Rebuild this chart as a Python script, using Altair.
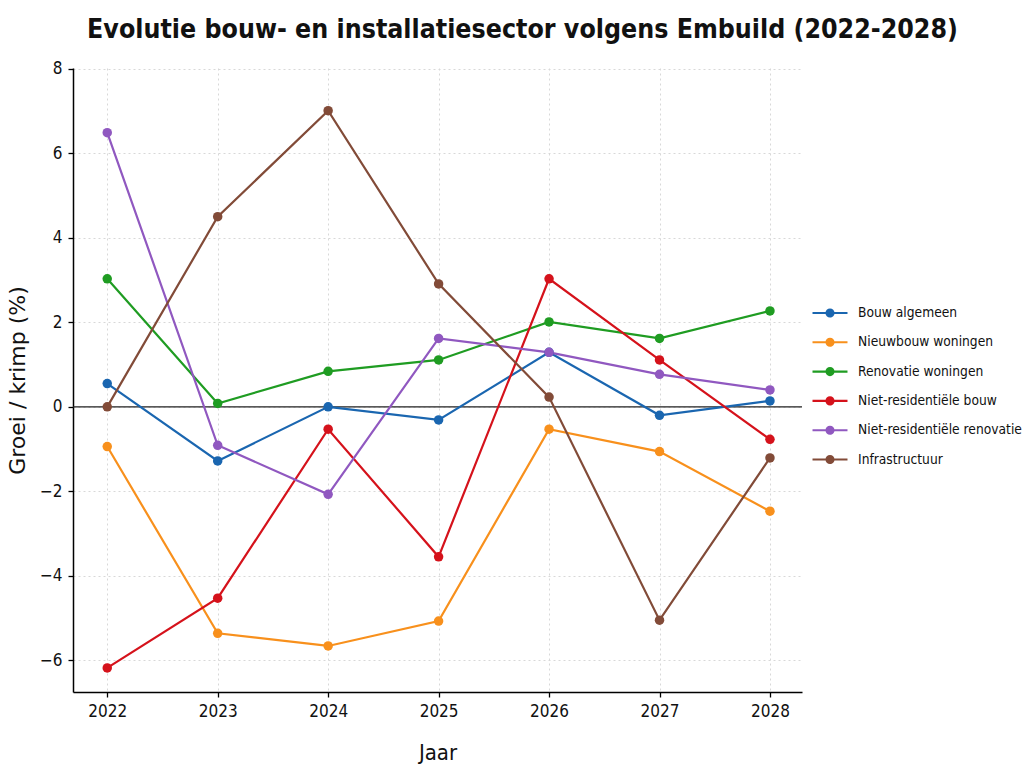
import altair as alt
import pandas as pd

years = [2022, 2023, 2024, 2025, 2026, 2027, 2028]
series_names = [
    "Bouw algemeen",
    "Nieuwbouw woningen",
    "Renovatie woningen",
    "Niet-residentiële bouw",
    "Niet-residentiële renovatie",
    "Infrastructuur",
]
bouw_algemeen = [0.55, -1.28, 0.0, -0.31, 1.29, -0.2, 0.14]
nieuwbouw_woningen = [-0.94, -5.36, -5.66, -5.07, -0.53, -1.06, -2.47]
renovatie_woningen = [3.03, 0.08, 0.84, 1.11, 2.01, 1.62, 2.27]
niet_res_bouw = [-6.18, -4.53, -0.53, -3.55, 3.03, 1.11, -0.77]
niet_res_renovatie = [6.49, -0.91, -2.07, 1.62, 1.29, 0.77, 0.40]
infrastructuur = [0.0, 4.5, 7.01, 2.91, 0.23, -5.05, -1.21]
colors = ["#1a66b0", "#f8901c", "#1f9c22", "#d5121b", "#9058c0", "#824b38"]

all_values = [bouw_algemeen, nieuwbouw_woningen, renovatie_woningen,
              niet_res_bouw, niet_res_renovatie, infrastructuur]
rows = []
for name, vals in zip(series_names, all_values):
    for y, v in zip(years, vals):
        rows.append({"Jaar": y, "Waarde": v, "Reeks": name})
df = pd.DataFrame(rows)

FONT = "DejaVu Sans Condensed, Roboto, sans-serif"

legend_path = ("M-1.5,-0.09 L1.5,-0.09 L1.5,0.09 L-1.5,0.09 Z "
               "M0.39,0 A0.39,0.39 0 1 1 -0.39,0 A0.39,0.39 0 1 1 0.39,0 Z")

color = alt.Color(
    "Reeks:N",
    scale=alt.Scale(domain=series_names, range=colors),
    sort=series_names,
    legend=alt.Legend(
        title=None,
        orient="none",
        legendX=745,
        legendY=233,
        symbolType=legend_path,
        symbolSize=544,
        symbolStrokeWidth=0,
        labelFont=FONT,
        labelFontSize=13.7,
        labelColor="#111111",
        labelOffset=16,
        labelLimit=300,
        rowPadding=10.3,
    ),
)

x = alt.X(
    "Jaar:Q",
    scale=alt.Scale(domain=[2021.69, 2028.29], nice=False, zero=False),
    axis=alt.Axis(values=years, format="d", title="Jaar"),
)
y = alt.Y(
    "Waarde:Q",
    scale=alt.Scale(domain=[-6.75, 8.02], nice=False),
    axis=alt.Axis(values=[-6, -4, -2, 0, 2, 4, 6, 8], title="Groei / krimp (%)"),
)

zero = alt.Chart(pd.DataFrame({"y": [0]})).mark_rule(color="#222222", strokeWidth=1.3).encode(
    y=alt.Y("y:Q", scale=alt.Scale(domain=[-6.75, 8.02], nice=False))
)

lines = alt.Chart(df).mark_line(strokeWidth=2.2).encode(x=x, y=y, color=color)
points = alt.Chart(df).mark_point(filled=True, size=90, opacity=1).encode(x=x, y=y, color=color)

chart = alt.layer(zero, lines, points).properties(
    width=729,
    height=624,
    title=alt.TitleParams(
        "Evolutie bouw- en installatiesector volgens Embuild (2022-2028)",
        font=FONT,
        fontSize=26.5,
        fontWeight="bold",
        color="#111111",
        anchor="middle",
        dx=85,
        offset=16,
    ),
    autosize=alt.AutoSizeParams(type="none"),
    padding={"left": 73, "top": 68, "right": 222, "bottom": 76},
).configure_view(stroke=None).configure_axis(
    grid=True,
    gridColor="#d8d8d8",
    gridDash=[2, 3],
    gridWidth=1,
    domainColor="#000000",
    domainWidth=1.5,
    tickColor="#000000",
    tickWidth=1.3,
    tickSize=5,
    labelFont=FONT,
    labelFontSize=17,
    labelColor="#111111",
    titleFont=FONT,
    titleColor="#111111",
    titleFontWeight="normal",
).configure_axisX(
    labelPadding=6,
    titleFontSize=22,
    titlePadding=23,
).configure_axisY(
    labelPadding=6,
    titleFont="DejaVu Sans, sans-serif",
    titleFontSize=22,
    titlePadding=10,
)

chart.save("out.html", embed_options={"renderer": "svg", "actions": False})
